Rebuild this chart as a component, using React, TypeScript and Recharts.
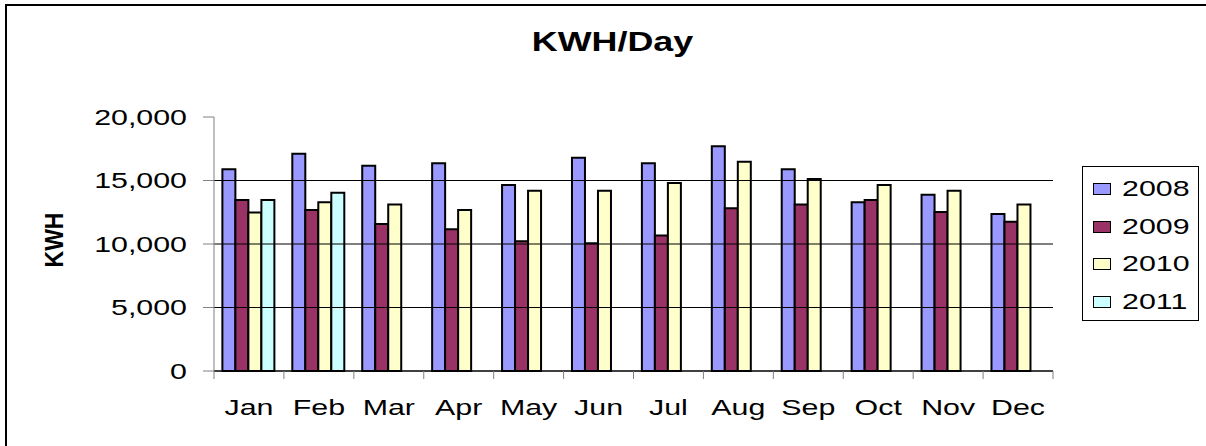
import { BarChart, Bar, XAxis, YAxis, Legend, ReferenceLine } from "recharts";

const months = ["Jan", "Feb", "Mar", "Apr", "May", "Jun", "Jul", "Aug", "Sep", "Oct", "Nov", "Dec"];
const kwh2008 = [15880, 17110, 16170, 16350, 14650, 16800, 16350, 17690, 15880, 13280, 13880, 12360];
const kwh2009 = [13470, 12680, 11580, 11160, 10210, 10050, 10660, 12810, 13120, 13470, 12520, 11760];
const kwh2010 = [12490, 13280, 13120, 12680, 14200, 14200, 14800, 16480, 15120, 14650, 14200, 13120];
const kwh2011 = [13470, 14040, null, null, null, null, null, null, null, null, null, null];
const yTicks = [0, 5000, 10000, 15000, 20000];
const gridValues = [5000, 10000, 15000];

const series = [
  { key: "y2008", name: "2008", color: "#9999FF" },
  { key: "y2009", name: "2009", color: "#993366" },
  { key: "y2010", name: "2010", color: "#FFFFCC" },
  { key: "y2011", name: "2011", color: "#CCFFFF" },
];

const data = months.map((m, i) => ({
  month: m,
  y2008: kwh2008[i],
  y2009: kwh2009[i],
  y2010: kwh2010[i],
  y2011: kwh2011[i],
}));

const FONT = '"Liberation Sans", Arial, sans-serif';
const STRETCH = 1.38;

const withCommas = (v: number) => String(v).replace(/\B(?=(\d{3})+(?!\d))/g, ",");

const YTick = ({ x, y, payload }: any) => (
  <text
    transform={`translate(${x},${y}) scale(${STRETCH},1)`}
    textAnchor="end"
    dy={7.5}
    fontSize={22}
    fontFamily={FONT}
    fill="#000"
  >
    {withCommas(payload.value)}
  </text>
);

// category label plus Excel-style tick marks on the band edges
const XTick = ({ x, y, payload, index, width }: any) => {
  const half = width / months.length / 2;
  const isLast = index === months.length - 1;
  return (
    <g>
      <line x1={x - half} x2={x - half} y1={y} y2={y + 8} stroke="#808080" />
      {isLast && <line x1={x + half} x2={x + half} y1={y} y2={y + 8} stroke="#808080" />}
      <text
        transform={`translate(${x},${y + 44}) scale(${STRETCH},1)`}
        textAnchor="middle"
        fontSize={22}
        fontFamily={FONT}
        fill="#000"
      >
        {payload.value}
      </text>
    </g>
  );
};

const LegendBox = ({ payload }: any) => (
  <div
    style={{
      width: 117,
      height: 155,
      border: "1px solid #000",
      boxSizing: "border-box",
      paddingTop: 3,
      background: "#fff",
    }}
  >
    {(payload || []).map((entry: any) => (
      <div key={entry.value} style={{ height: 37.8, display: "flex", alignItems: "center" }}>
        <span
          style={{
            display: "inline-block",
            width: 18,
            height: 12,
            marginLeft: 10,
            border: "1.5px solid #000",
            boxSizing: "border-box",
            background: entry.color,
          }}
        />
        <span
          style={{
            marginLeft: 11,
            fontSize: 22,
            fontFamily: FONT,
            color: "#000",
            display: "inline-block",
            transform: `scaleX(${STRETCH})`,
            transformOrigin: "left center",
          }}
        >
          {entry.value}
        </span>
      </div>
    ))}
  </div>
);

export default function App() {
  return (
    <div
      style={{
        position: "absolute",
        left: 0,
        top: 0,
        width: 1206,
        height: 446,
        background: "#fff",
        overflow: "hidden",
      }}
    >
      <BarChart
        width={1206}
        height={446}
        data={data}
        margin={{ top: 117, right: 153, left: 0, bottom: 0 }}
        barCategoryGap="12%"
        barGap={0}
      >
        <XAxis
          dataKey="month"
          height={75}
          tick={<XTick />}
          tickLine={false}
          axisLine={{ stroke: "#000", strokeWidth: 1.5 }}
          tickSize={0}
          tickMargin={0}
          interval={0}
        />
        <YAxis
          width={214}
          domain={[0, 20000]}
          ticks={yTicks}
          tick={<YTick />}
          tickSize={11}
          tickMargin={16}
          tickLine={{ stroke: "#808080" }}
          axisLine={{ stroke: "#808080" }}
        />
        {gridValues.map((v) => (
          <ReferenceLine key={v} y={v} stroke="#000" strokeWidth={1} />
        ))}
        <Legend
          layout="horizontal"
          verticalAlign="middle"
          align="center"
          content={<LegendBox />}
          wrapperStyle={{ left: 1082, top: 166, width: 117, height: 155 }}
        />
        {series.map((s) => (
          <Bar
            key={s.key}
            dataKey={s.key}
            name={s.name}
            fill={s.color}
            stroke="#000"
            strokeWidth={2}
            isAnimationActive={false}
          />
        ))}
      </BarChart>
      <svg
        width={1206}
        height={446}
        style={{ position: "absolute", left: 0, top: 0, pointerEvents: "none" }}
      >
        <path d="M6,446 V5 H1206" fill="none" stroke="#000" strokeWidth={2} />
        <text
          transform={`translate(612.5,51) scale(1.33,1)`}
          textAnchor="middle"
          fontSize={27}
          fontWeight="bold"
          fontFamily={FONT}
          fill="#000"
        >
          KWH/Day
        </text>
        <text
          transform="translate(63,240) scale(1.1,1) rotate(-90)"
          textAnchor="middle"
          fontSize={23}
          fontWeight="bold"
          fontFamily={FONT}
          fill="#000"
        >
          KWH
        </text>
      </svg>
    </div>
  );
}
